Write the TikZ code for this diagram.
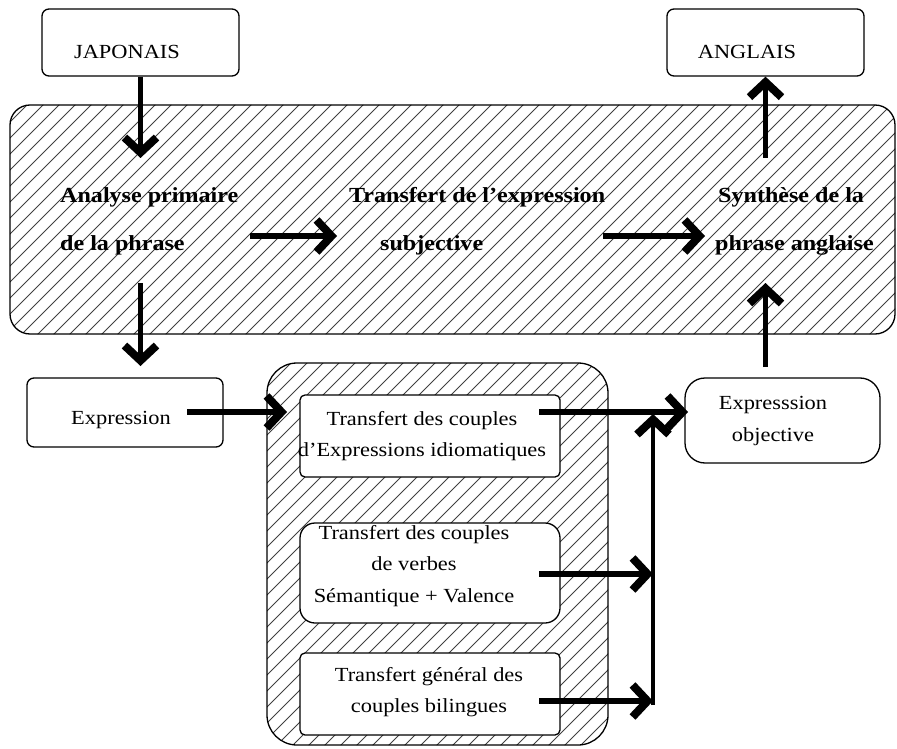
\documentclass[tikz,border=0pt]{standalone}
\usepackage{fontspec}
\setmainfont{Liberation Serif}[FakeStretch=1.12]
\usetikzlibrary{arrows.meta}
\begin{document}
\begin{tikzpicture}[x=1pt,y=-1pt,
  box/.style={draw, line width=1.3pt, rounded corners=7pt, inner sep=0pt},
  wbox/.style={box, fill=white},
  txt/.style={font=\fontsize{20}{31.5}\selectfont, align=center, inner sep=0pt},
  btxt/.style={font=\fontsize{21.5}{48}\selectfont\bfseries, align=left, inner sep=0pt, anchor=west},
  arr/.style={line width=5.5pt, -{Straight Barb[length=15pt,width=32pt,line width'=8pt]}},
  hatch/.style={line width=1pt, black!75}]
\useasboundingbox (0,0) rectangle (897,749);

% big hatched box
\begin{scope}
  \clip[rounded corners=20pt] (10,105) rectangle (895,334);
  \foreach \i in {-240,-224,...,900} \draw[hatch] (\i,340) -- ++(240,-240);
\end{scope}
\node[box, rounded corners=20pt, minimum width=885pt, minimum height=229pt] (main) at (452.5,219.5) {};

% inner hatched group
\begin{scope}
  \clip[rounded corners=30pt] (267,363) rectangle (608,745);
  \foreach \i in {-160,-144,...,620} \draw[hatch] (\i,750) -- ++(400,-400);
\end{scope}
\node[box, rounded corners=30pt, minimum width=341pt, minimum height=382pt] (grp) at (437.5,554) {};

% boxes
\node[box, minimum width=197pt, minimum height=67pt] (jap) at (140.5,42.5) {};
\node[txt] (japt) at (127,52) {JAPONAIS};
\node[box, minimum width=197pt, minimum height=67pt] (ang) at (765.5,42.5) {};
\node[txt] (angt) at (747,52) {ANGLAIS};
\node[box, minimum width=196pt, minimum height=69pt] (expr) at (125,412.5) {};
\node[txt] (exprt) at (121,420) {Expression};
\node[box, rounded corners=20pt, minimum width=195pt, minimum height=85pt] (eo) at (782.5,420.5) {};
\node[txt] (eot) at (773,421) {Expresssion\\objective};

\node[wbox, rounded corners=5pt, minimum width=260pt, minimum height=82pt] (b1) at (430,436) {};
\node[txt] (b1t) at (422,436) {Transfert des couples\\d'Expressions idiomatiques};
\node[wbox, rounded corners=15pt, minimum width=260pt, minimum height=100pt] (b2) at (430,573) {};
\node[txt] (b2t) at (414,566) {Transfert des couples\\de verbes\\Sémantique + Valence};
\node[wbox, rounded corners=5pt, minimum width=260pt, minimum height=82pt] (b3) at (430,694) {};
\node[txt] (b3t) at (429,692) {Transfert général des\\couples bilingues};

% bold texts in big box
\node[btxt] (ana) at (60,221) {Analyse primaire\\de la phrase};
\node[btxt] (trs) at (349,221) {Transfert de l'expression\\\hspace*{31pt}subjective};
\node[btxt] (syn) at (715,221) {\hspace*{3pt}Synthèse de la\\phrase anglaise};

% coordinates
\coordinate (anaIn) at (140.5,158);
\coordinate (anaOut) at (140.5,283);
\coordinate (exprIn) at (140.5,366);
\coordinate (r1s) at (250,236);
\coordinate (r1e) at (337,236);
\coordinate (r2s) at (603,236);
\coordinate (r2e) at (705,236);
\coordinate (synOut) at (765.5,158);
\coordinate (synIn) at (765.5,283);
\coordinate (eoOut) at (765.5,367);
\coordinate (ex1) at (187,412);
\coordinate (ex2) at (287,412);
\coordinate (b1s) at (539,412);
\coordinate (b1e) at (688,412);
\coordinate (b2s) at (539,574);
\coordinate (b2e) at (653,574);
\coordinate (b3s) at (539,701);
\coordinate (b3e) at (653,701);
\coordinate (vb) at (653,705);
\coordinate (vt) at (653,414);

% arrows
\draw[arr] (jap.south) -- (anaIn);
\draw[arr] (r1s) -- (r1e);
\draw[arr] (r2s) -- (r2e);
\draw[arr] (synOut) -- (ang.south);
\draw[arr] (anaOut) -- (exprIn);
\draw[arr] (eoOut) -- (synIn);
\draw[arr] (ex1) -- (ex2);
\draw[arr] (b1s) -- (b1e);
\draw[arr] (b2s) -- (b2e);
\draw[arr] (b3s) -- (b3e);
\draw[arr, line width=4.5pt] (vb) -- (vt);
\end{tikzpicture}
\end{document}
